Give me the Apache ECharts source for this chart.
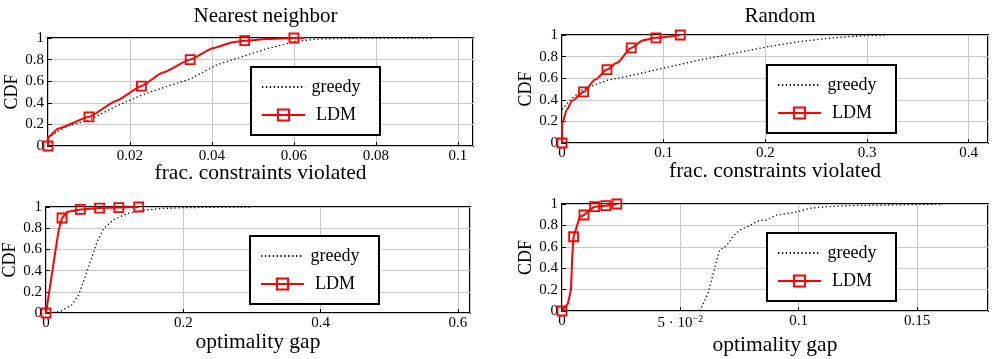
<!DOCTYPE html>
<html><head><meta charset="utf-8">
<script src="https://cdn.jsdelivr.net/npm/echarts@6/dist/echarts.min.js"></script>
<style>html,body{margin:0;padding:0;background:#fff}#c{width:996px;height:359px}</style>
</head><body><div id="c"></div>
<script>
// ---- data ----
const titles = ['Nearest neighbor', 'Random'];
const xNames = ['frac. constraints violated', 'frac. constraints violated', 'optimality gap', 'optimality gap'];
const yName = 'CDF';
const seriesNames = ['greedy', 'LDM'];
const xTickStep = [0.02, 0.1, 0.2, 0.05];
const xMax = [0.1037, 0.419, 0.6175, 0.18];
const yTickStep = 0.2;

// Nearest neighbor, frac. constraints violated
const greedyNNFrac = [[0,0.08],[0.0045,0.18],[0.01,0.24],[0.0167,0.37],[0.0228,0.47],[0.0289,0.55],[0.0347,0.62],[0.0411,0.75],[0.048,0.835],[0.0533,0.9],[0.06,0.965],[0.0655,0.99],[0.0777,1.0],[0.094,1.0]];
const ldmNNFrac = [[0,0],[0,0.08],[0.0024,0.16],[0.01,0.27],[0.0167,0.42],[0.0228,0.555],[0.028,0.68],[0.0347,0.80],[0.0402,0.905],[0.0451,0.96],[0.048,0.975],[0.0533,0.99],[0.06,1.0],[0.0627,1.0]];
const ldmNNFracMarks = [0,3,5,7,10,12];

// Random, frac. constraints violated
const greedyRndFrac = [[0,0.31],[0.0082,0.40],[0.0212,0.50],[0.0442,0.58],[0.0704,0.63],[0.103,0.70],[0.136,0.77],[0.169,0.83],[0.2016,0.89],[0.234,0.94],[0.2675,0.975],[0.3,0.995],[0.32,1]];
const ldmRndFrac = [[0,0],[0,0.18],[0.0049,0.31],[0.0098,0.39],[0.0212,0.473],[0.0327,0.587],[0.0442,0.68],[0.054,0.742],[0.0681,0.88],[0.080,0.952],[0.0924,0.974],[0.1163,1]];
const ldmRndFracMarks = [0,4,6,8,10,11];

// Nearest neighbor, optimality gap
const greedyNNGap = [[0.005,0],[0.021,0.015],[0.0379,0.078],[0.0475,0.17],[0.0572,0.344],[0.067,0.53],[0.0743,0.67],[0.0839,0.797],[0.0985,0.88],[0.118,0.937],[0.142,0.969],[0.166,0.985],[0.2,0.994],[0.27,1],[0.3,1]];
const ldmNNGap = [[0,0],[0.011,0.47],[0.0184,0.78],[0.0233,0.896],[0.0306,0.952],[0.05,0.977],[0.078,0.99],[0.106,0.995],[0.135,1]];
const ldmNNGapMarks = [0,3,5,6,7,8];

// Random, optimality gap
const greedyRndGap = [[0.0582,0],[0.0617,0.165],[0.0645,0.4],[0.0666,0.57],[0.0695,0.61],[0.0722,0.694],[0.0751,0.757],[0.0786,0.79],[0.0828,0.841],[0.0864,0.85],[0.0906,0.897],[0.0948,0.91],[0.099,0.925],[0.1047,0.96],[0.1117,0.975],[0.1216,0.985],[0.1356,0.99],[0.1497,0.995],[0.161,1]];
const ldmRndGap = [[0,0],[0.0025,0.07],[0.0038,0.2],[0.0043,0.5],[0.0049,0.694],[0.0075,0.88],[0.0093,0.897],[0.0115,0.94],[0.0138,0.975],[0.0185,0.984],[0.0232,1]];
const ldmRndGapMarks = [0,4,6,8,9,10];

// ---- layout ----
const FONT = 'Liberation Serif';
const grids = [
  {left: 48, top: 38, width: 425, height: 108},
  {left: 562, top: 35, width: 426, height: 108},
  {left: 46, top: 207, width: 424, height: 106},
  {left: 562, top: 204, width: 426, height: 107}
];
const legendPos = [
  {left: 251, top: 67},
  {left: 767, top: 65},
  {left: 250, top: 236},
  {left: 767, top: 233}
];
const xNameGap = [16, 17, 18, 23];
const ldmSmooth = [0.15, 0.25, 0, 0];
const panels = [
  [greedyNNFrac, ldmNNFrac, ldmNNFracMarks],
  [greedyRndFrac, ldmRndFrac, ldmRndFracMarks],
  [greedyNNGap, ldmNNGap, ldmNNGapMarks],
  [greedyRndGap, ldmRndGap, ldmRndGapMarks]
];

function fmt(v) { return String(+v.toFixed(4)); }

const option = {
  animation: false,
  backgroundColor: '#fff',
  textStyle: {fontFamily: FONT, color: '#000'},
  title: titles.map((t, i) => ({
    text: t, left: grids[i].left + grids[i].width / 2, top: 1, textAlign: 'center',
    textStyle: {fontFamily: FONT, fontSize: 21, fontWeight: 'normal', color: '#000'}
  })),
  grid: grids.map(g => Object.assign({show: true, borderColor: '#000', borderWidth: 2, backgroundColor: 'transparent'}, g)),
  legend: legendPos.map(p => ({
    left: p.left, top: p.top, orient: 'vertical',
    data: [
      {name: seriesNames[0], itemStyle: {color: 'rgba(0,0,0,0)', borderWidth: 0, opacity: 0}},
      {name: seriesNames[1]}
    ],
    itemWidth: 43, itemHeight: 14, itemGap: 10,
    padding: [11, 18, 11, 10],
    backgroundColor: '#fff', borderColor: '#000', borderWidth: 2, borderRadius: 0,
    selectedMode: false,
    formatter: '{c|{name}}',
    textStyle: {color: '#000', fontFamily: FONT, fontSize: 18,
      rich: {c: {width: 52, align: 'center', fontFamily: FONT, fontSize: 18, color: '#000', lineHeight: 20}}}
  })),
  xAxis: grids.map((g, i) => ({
    type: 'value', gridIndex: i, min: 0, max: xMax[i], interval: xTickStep[i],
    name: xNames[i], nameLocation: 'middle', nameGap: xNameGap[i], nameMoveOverlap: false,
    nameTextStyle: {fontFamily: FONT, fontSize: 21.5, color: '#000'},
    axisLine: {show: false},
    axisTick: {show: true, inside: true, length: 4, lineStyle: {color: '#000', width: 1}},
    splitLine: {show: true, lineStyle: {color: '#c8c8c8', width: 1}},
    axisLabel: {
      margin: 3, color: '#000', fontFamily: FONT, fontSize: 15,
      showMaxLabel: false, showMinLabel: i !== 0,
      formatter: i === 3 ? (v => Math.abs(v - 0.05) < 1e-9 ? '{n|5 · 10}{s|−2}' : fmt(v)) : fmt,
      rich: i === 3 ? {n: {fontFamily: FONT, fontSize: 15, color: '#000'}, s: {fontFamily: FONT, fontSize: 10, color: '#000', padding: [0, 0, 8, 0]}} : undefined
    }
  })),
  yAxis: grids.map((g, i) => ({
    type: 'value', gridIndex: i, min: 0, max: 1, interval: yTickStep,
    name: yName, nameLocation: 'middle', nameGap: 27, nameMoveOverlap: false,
    nameTextStyle: {fontFamily: FONT, fontSize: 18, color: '#000'},
    axisLine: {show: false},
    axisTick: {show: true, inside: true, length: 4, lineStyle: {color: '#000', width: 1}},
    splitLine: {show: true, lineStyle: {color: '#c8c8c8', width: 1}},
    axisLabel: {margin: 4, color: '#000', fontFamily: FONT, fontSize: 15, formatter: fmt}
  })),
  series: []
};

panels.forEach((p, i) => {
  const [greedy, ldm, marks] = p;
  option.series.push({
    name: seriesNames[0], type: 'line', xAxisIndex: i, yAxisIndex: i,
    data: greedy, symbol: 'none', clip: false, z: 2,
    lineStyle: {color: '#000', width: 1.3, type: [1.3, 2.6]},
    itemStyle: {color: '#000'},
    emphasis: {disabled: true}
  });
  option.series.push({
    name: seriesNames[1], type: 'line', xAxisIndex: i, yAxisIndex: i,
    data: ldm.map((pt, k) => marks.includes(k) ? {value: pt} : {value: pt, symbol: 'none'}),
    symbol: 'rect', symbolSize: 9, showSymbol: true, clip: false, z: 3,
    smooth: ldmSmooth[i], smoothMonotone: 'x',
    lineStyle: {color: '#ff0000', width: 2},
    itemStyle: {color: 'rgba(255,255,255,0)', borderColor: '#ff0000', borderWidth: 1.8},
    emphasis: {disabled: true}
  });
});

const chart = echarts.init(document.getElementById('c'), null, {renderer: 'canvas'});
chart.setOption(option);
</script>
</body></html>
